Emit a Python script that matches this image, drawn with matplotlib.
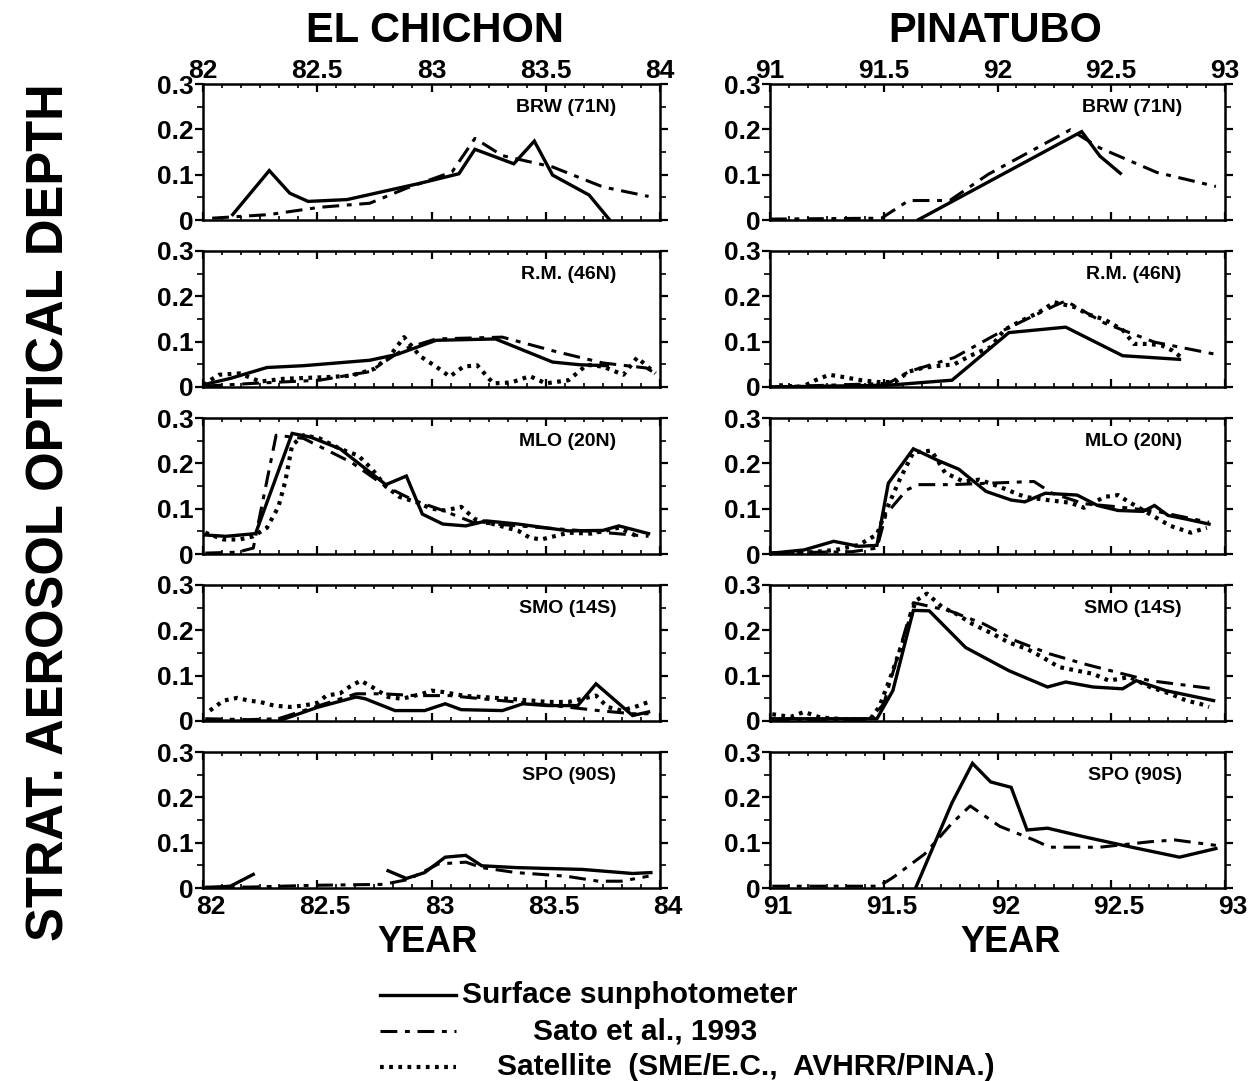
import matplotlib
matplotlib.use('Agg')
import matplotlib.pyplot as plt
import numpy as np
from matplotlib.ticker import MultipleLocator, FixedLocator
from matplotlib.lines import Line2D
from matplotlib.transforms import ScaledTranslation

plt.rcParams['font.family'] = ['Liberation Sans', 'DejaVu Sans']
plt.rcParams['font.weight'] = 'bold'

nan = np.nan

# ---- El Chichon (1982-84) ----
brw_ec_sun_x = [82.13, 82.29, 82.38, 82.46, 82.63, 82.95, 83.12, 83.19, 83.36, 83.45, 83.53, 83.69, 83.78]
brw_ec_sun_y = [0.012, 0.109, 0.059, 0.041, 0.045, 0.081, 0.102, 0.156, 0.124, 0.174, 0.099, 0.055, 0.0]
brw_ec_sato_x = [82.04, 82.29, 82.51, 82.73, 82.89, 83.09, 83.19, 83.31, 83.53, 83.75, 83.95]
brw_ec_sato_y = [0.004, 0.012, 0.028, 0.037, 0.07, 0.106, 0.18, 0.142, 0.117, 0.073, 0.052]

rm_ec_sun_x = [82.01, 82.12, 82.28, 82.44, 82.73, 82.85, 83.02, 83.28, 83.53, 83.65, 83.77]
rm_ec_sun_y = [0.006, 0.019, 0.043, 0.047, 0.059, 0.072, 0.103, 0.106, 0.055, 0.049, 0.047]
rm_ec_sato_x = [82.01, 82.22, 82.51, 82.73, 82.88, 83.02, 83.31, 83.53, 83.75, 83.94, 83.99]
rm_ec_sato_y = [0.002, 0.008, 0.015, 0.034, 0.084, 0.106, 0.11, 0.08, 0.053, 0.042, 0.027]
rm_ec_sat_x = [82.0, 82.07, 82.16, 82.25, 82.35, 82.45, 82.55, 82.65, 82.75, 82.82, 82.88, 82.95, 83.02,
               83.08, 83.14, 83.2, 83.27, 83.35, 83.43, 83.5, 83.6, 83.68, 83.75, 83.84, 83.9, 83.98]
rm_ec_sat_y = [0.005, 0.027, 0.03, 0.012, 0.018, 0.02, 0.022, 0.025, 0.04, 0.07, 0.11, 0.068, 0.045,
               0.023, 0.045, 0.048, 0.008, 0.01, 0.024, 0.008, 0.015, 0.049, 0.045, 0.027, 0.065, 0.03]

mlo_ec_sun_x = [82.01, 82.1, 82.23, 82.39, 82.47, 82.6, 82.8, 82.89, 82.96, 83.05, 83.15, 83.24, 83.38,
                83.6, 83.75, 83.82, 83.95]
mlo_ec_sun_y = [0.042, 0.039, 0.045, 0.266, 0.258, 0.232, 0.153, 0.172, 0.088, 0.066, 0.062, 0.073, 0.066,
                0.051, 0.052, 0.062, 0.045]
mlo_ec_sato_x = [82.01, 82.15, 82.22, 82.32, 82.44, 82.65, 82.8, 82.92, 83.05, 83.18, 83.38, 83.67, 83.95]
mlo_ec_sato_y = [0.002, 0.004, 0.013, 0.262, 0.255, 0.202, 0.149, 0.119, 0.096, 0.07, 0.062, 0.051, 0.039]
mlo_ec_sat_x = [82.01, 82.09, 82.16, 82.22, 82.28, 82.33, 82.36, 82.39, 82.44, 82.51, 82.6, 82.68, 82.74,
                82.8, 82.86, 82.93, 83.0, 83.06, 83.13, 83.19, 83.3, 83.38, 83.43, 83.48, 83.6, 83.7, 83.82, 83.9]
mlo_ec_sat_y = [0.047, 0.032, 0.032, 0.039, 0.058, 0.104, 0.16, 0.24, 0.262, 0.255, 0.232, 0.217, 0.187,
                0.149, 0.126, 0.115, 0.1, 0.096, 0.104, 0.077, 0.062, 0.051, 0.036, 0.032, 0.047, 0.045, 0.058, 0.039]

smo_ec_sun_x = [82.01, 82.33, 82.5, 82.67, 82.71, 82.84, 82.97, 83.06, 83.13, 83.31, 83.4, 83.51, 83.64,
                83.72, 83.88, 83.95]
smo_ec_sun_y = [0.0, 0.0, 0.03, 0.053, 0.049, 0.023, 0.023, 0.038, 0.025, 0.023, 0.038, 0.034, 0.034,
                0.082, 0.012, 0.02]
smo_ec_sato_x = [82.01, 82.2, 82.33, 82.49, 82.67, 82.79, 82.93, 83.08, 83.22, 83.37, 83.59, 83.73, 83.88, 83.95]
smo_ec_sato_y = [0.005, 0.003, 0.005, 0.031, 0.06, 0.06, 0.056, 0.056, 0.049, 0.042, 0.031, 0.023, 0.016, 0.016]
smo_ec_sat_x = [82.03, 82.09, 82.15, 82.2, 82.25, 82.31, 82.38, 82.44, 82.5, 82.54, 82.6, 82.64, 82.69,
                82.74, 82.81, 82.87, 82.96, 83.0, 83.05, 83.15, 83.25, 83.34, 83.44, 83.51, 83.6, 83.72,
                83.77, 83.83, 83.89, 83.95]
smo_ec_sat_y = [0.023, 0.045, 0.051, 0.045, 0.042, 0.034, 0.031, 0.034, 0.04, 0.056, 0.061, 0.075, 0.089,
                0.075, 0.053, 0.049, 0.06, 0.067, 0.064, 0.055, 0.052, 0.049, 0.045, 0.042, 0.042, 0.056,
                0.031, 0.023, 0.031, 0.042]

spo_ec_sun_x = [82.01, 82.12, 82.22, nan, 82.81, 82.89, 82.97, 83.06, 83.15, 83.22, 83.37, 83.66, 83.88, 83.96]
spo_ec_sun_y = [0.0, 0.004, 0.03, nan, 0.038, 0.021, 0.034, 0.068, 0.072, 0.049, 0.045, 0.041, 0.032, 0.034]
spo_ec_sato_x = [82.01, 82.2, 82.49, 82.79, 82.9, 83.03, 83.15, 83.22, 83.37, 83.59, 83.73, 83.83, 83.95]
spo_ec_sato_y = [0.002, 0.002, 0.006, 0.008, 0.019, 0.053, 0.057, 0.045, 0.034, 0.026, 0.015, 0.015, 0.026]

# ---- Pinatubo (1991-93) ----
brw_pi_sun_x = [91.65, 92.37, 92.45, 92.54]
brw_pi_sun_y = [0.0, 0.195, 0.141, 0.103]
brw_pi_sato_x = [91.0, 91.49, 91.61, 91.79, 91.96, 92.32, 92.45, 92.7, 92.96]
brw_pi_sato_y = [0.002, 0.004, 0.043, 0.043, 0.101, 0.199, 0.159, 0.105, 0.074]

rm_pi_sun_x = [91.0, 91.52, 91.8, 92.05, 92.3, 92.55, 92.8]
rm_pi_sun_y = [0.0, 0.004, 0.015, 0.12, 0.132, 0.069, 0.061]
rm_pi_sato_x = [91.0, 91.52, 91.61, 91.81, 92.03, 92.25, 92.3, 92.47, 92.69, 92.95]
rm_pi_sato_y = [0.0, 0.008, 0.034, 0.065, 0.126, 0.179, 0.19, 0.141, 0.099, 0.073]
rm_pi_sat_x = [91.04, 91.14, 91.2, 91.26, 91.31, 91.4, 91.47, 91.55, 91.61, 91.67, 91.73, 91.81, 91.88,
               91.97, 92.03, 92.1, 92.18, 92.25, 92.34, 92.4, 92.47, 92.55, 92.6, 92.66, 92.72, 92.77, 92.82]
rm_pi_sat_y = [0.004, 0.0, 0.015, 0.027, 0.023, 0.015, 0.011, 0.011, 0.034, 0.042, 0.046, 0.05, 0.069,
               0.088, 0.126, 0.145, 0.164, 0.187, 0.176, 0.16, 0.149, 0.126, 0.095, 0.095, 0.092, 0.08, 0.061]

mlo_pi_sun_x = [91.01, 91.15, 91.28, 91.39, 91.47, 91.52, 91.63, 91.74, 91.83, 91.95, 92.06, 92.12, 92.21,
                92.35, 92.44, 92.53, 92.64, 92.69, 92.75, 92.83, 92.93]
mlo_pi_sun_y = [0.002, 0.009, 0.028, 0.017, 0.019, 0.156, 0.232, 0.206, 0.187, 0.138, 0.119, 0.115, 0.134,
                0.13, 0.107, 0.096, 0.094, 0.107, 0.085, 0.077, 0.066]
mlo_pi_sato_x = [91.01, 91.22, 91.36, 91.47, 91.51, 91.6, 91.65, 91.8, 92.16, 92.24, 92.38, 92.53, 92.7, 92.93]
mlo_pi_sato_y = [0.002, 0.004, 0.005, 0.013, 0.088, 0.141, 0.153, 0.153, 0.16, 0.134, 0.111, 0.104, 0.094, 0.07]
mlo_pi_sat_x = [91.01, 91.14, 91.29, 91.39, 91.47, 91.51, 91.57, 91.63, 91.71, 91.77, 91.85, 91.92, 92.0,
                92.06, 92.12, 92.22, 92.32, 92.38, 92.47, 92.53, 92.57, 92.67, 92.76, 92.85, 92.92]
mlo_pi_sat_y = [0.002, 0.002, 0.009, 0.02, 0.043, 0.096, 0.164, 0.224, 0.228, 0.179, 0.16, 0.164, 0.15,
                0.138, 0.126, 0.119, 0.113, 0.102, 0.126, 0.13, 0.117, 0.088, 0.062, 0.047, 0.058]

smo_pi_sun_x = [91.01, 91.47, 91.54, 91.63, 91.7, 91.86, 92.05, 92.22, 92.3, 92.42, 92.55, 92.61, 92.74, 92.95]
smo_pi_sun_y = [0.005, 0.005, 0.067, 0.244, 0.243, 0.162, 0.111, 0.075, 0.086, 0.075, 0.071, 0.089, 0.067, 0.045]
smo_pi_sato_x = [91.01, 91.44, 91.5, 91.63, 91.79, 91.94, 92.08, 92.23, 92.38, 92.52, 92.67, 92.95]
smo_pi_sato_y = [0.003, 0.003, 0.038, 0.261, 0.243, 0.214, 0.177, 0.148, 0.126, 0.108, 0.089, 0.071]
smo_pi_sat_x = [91.01, 91.09, 91.15, 91.22, 91.35, 91.44, 91.48, 91.53, 91.59, 91.64, 91.69, 91.76, 91.82,
                91.89, 91.98, 92.05, 92.13, 92.2, 92.27, 92.35, 92.42, 92.49, 92.58, 92.67, 92.76, 92.83,
                92.89, 92.93]
smo_pi_sat_y = [0.015, 0.009, 0.02, 0.008, 0.003, 0.004, 0.031, 0.097, 0.184, 0.265, 0.281, 0.25, 0.236,
                0.214, 0.192, 0.173, 0.159, 0.14, 0.119, 0.111, 0.104, 0.089, 0.097, 0.075, 0.06, 0.045,
                0.038, 0.031]

spo_pi_sun_x = [91.64, 91.8, 91.89, 91.97, 92.06, 92.13, 92.22, 92.38, 92.59, 92.8, 92.96]
spo_pi_sun_y = [0.0, 0.188, 0.275, 0.234, 0.222, 0.128, 0.132, 0.113, 0.09, 0.068, 0.087]
spo_pi_sato_x = [91.01, 91.48, 91.54, 91.68, 91.8, 91.88, 92.01, 92.16, 92.23, 92.45, 92.67, 92.78, 92.96]
spo_pi_sato_y = [0.004, 0.004, 0.023, 0.075, 0.143, 0.181, 0.136, 0.106, 0.09, 0.09, 0.102, 0.106, 0.094]

stations = ['BRW (71N)', 'R.M. (46N)', 'MLO (20N)', 'SMO (14S)', 'SPO (90S)']
ec_ticks = [82, 82.5, 83, 83.5, 84]
ec_ticklabels = ['82', '82.5', '83', '83.5', '84']
pi_ticks = [91, 91.5, 92, 92.5, 93]
pi_ticklabels = ['91', '91.5', '92', '92.5', '93']
y_ticks = [0, 0.1, 0.2, 0.3]
y_ticklabels = ['0', '0.1', '0.2', '0.3']

ec_panels = [
    [(brw_ec_sun_x, brw_ec_sun_y), (brw_ec_sato_x, brw_ec_sato_y), None],
    [(rm_ec_sun_x, rm_ec_sun_y), (rm_ec_sato_x, rm_ec_sato_y), (rm_ec_sat_x, rm_ec_sat_y)],
    [(mlo_ec_sun_x, mlo_ec_sun_y), (mlo_ec_sato_x, mlo_ec_sato_y), (mlo_ec_sat_x, mlo_ec_sat_y)],
    [(smo_ec_sun_x, smo_ec_sun_y), (smo_ec_sato_x, smo_ec_sato_y), (smo_ec_sat_x, smo_ec_sat_y)],
    [(spo_ec_sun_x, spo_ec_sun_y), (spo_ec_sato_x, spo_ec_sato_y), None],
]
pi_panels = [
    [(brw_pi_sun_x, brw_pi_sun_y), (brw_pi_sato_x, brw_pi_sato_y), None],
    [(rm_pi_sun_x, rm_pi_sun_y), (rm_pi_sato_x, rm_pi_sato_y), (rm_pi_sat_x, rm_pi_sat_y)],
    [(mlo_pi_sun_x, mlo_pi_sun_y), (mlo_pi_sato_x, mlo_pi_sato_y), (mlo_pi_sat_x, mlo_pi_sat_y)],
    [(smo_pi_sun_x, smo_pi_sun_y), (smo_pi_sato_x, smo_pi_sato_y), (smo_pi_sat_x, smo_pi_sat_y)],
    [(spo_pi_sun_x, spo_pi_sun_y), (spo_pi_sato_x, spo_pi_sato_y), None],
]

# line styles: sunphotometer, Sato, satellite
styles = [
    dict(color='k', lw=2.4, ls='-', solid_joinstyle='miter'),
    dict(color='k', lw=2.2, ls=(0, (5.5, 2.5, 1.6, 2.5))),
    dict(color='k', lw=3.0, ls=(0, (0.9, 1.3))),
]

W, H = 1248, 1081
fig = plt.figure(figsize=(W / 100, H / 100), dpi=100)

top0, step, ph = 84, 167, 136
# bottom year labels sit a little right of their ticks in the original
shift_right = ScaledTranslation(8 / 100, 0, fig.dpi_scale_trans)


def make_ax(left_px, width_px, row, x0, ticks, ticklabels, data, label):
    top = top0 + row * step
    ax = fig.add_axes([left_px / W, 1 - (top + ph) / H, width_px / W, ph / H])
    for s, st in zip(data, styles):
        if s is not None:
            ax.plot(s[0], s[1], **st)
    ax.set_xlim(x0, x0 + 2)
    ax.set_ylim(0, 0.3)
    for sp in ax.spines.values():
        sp.set_linewidth(1.8)
    ax.xaxis.set_major_locator(FixedLocator(ticks))
    ax.xaxis.set_minor_locator(MultipleLocator(1 / 12))
    ax.yaxis.set_major_locator(FixedLocator(y_ticks))
    ax.yaxis.set_minor_locator(MultipleLocator(0.05))
    ax.tick_params(axis='x', which='both', direction='in', top=True, bottom=True,
                   labelbottom=(row == 4), labeltop=(row == 0), labelsize=19, pad=1)
    if row == 4:
        ax.tick_params(axis='x', which='major', pad=5)
    ax.tick_params(axis='x', which='major', length=6, width=1.6)
    ax.tick_params(axis='x', which='minor', length=3, width=1.2)
    ax.tick_params(axis='y', which='both', direction='out', left=True, right=True,
                   labelsize=19, pad=1)
    ax.tick_params(axis='y', which='major', length=6, width=1.6)
    ax.tick_params(axis='y', which='minor', length=4, width=1.2)
    ax.set_xticklabels(ticklabels, fontweight='bold')
    ax.set_yticklabels(y_ticklabels, fontweight='bold')
    if row == 4:
        for lab in ax.xaxis.get_majorticklabels():
            lab.set_transform(lab.get_transform() + shift_right)
    ax.text(0.905, 0.83, label, transform=ax.transAxes, ha='right', va='center',
            fontsize=14, fontweight='bold')
    return ax


for i in range(5):
    make_ax(203, 457, i, 82, ec_ticks, ec_ticklabels, ec_panels[i], stations[i])
    make_ax(770, 455, i, 91, pi_ticks, pi_ticklabels, pi_panels[i], stations[i])

fig.text(435 / W, 1 - 31 / H, 'EL CHICHON', ha='center', va='center', fontsize=30, fontweight='bold')
fig.text(995 / W, 1 - 31 / H, 'PINATUBO', ha='center', va='center', fontsize=30, fontweight='bold')
fig.text(427 / W, 1 - 943 / H, 'YEAR', ha='center', va='center', fontsize=26, fontweight='bold')
fig.text(1010 / W, 1 - 943 / H, 'YEAR', ha='center', va='center', fontsize=26, fontweight='bold')
fig.text(50 / W, 1 - 512 / H, 'STRAT. AEROSOL OPTICAL DEPTH', rotation=90, ha='center', va='center',
         fontsize=36.5, fontweight='bold')

# legend drawn by hand to keep the original's centred look
legend_labels = ['Surface sunphotometer', 'Sato et al., 1993', 'Satellite  (SME/E.C.,  AVHRR/PINA.)']
legend_text_x = [462, 533, 497]
legend_y = [995, 1031, 1067]
for st, lab, tx, ly in zip(styles, legend_labels, legend_text_x, legend_y):
    fig.add_artist(Line2D([380 / W, 456 / W], [1 - ly / H, 1 - ly / H], transform=fig.transFigure, **st))
    fig.text(tx / W, 1 - ly / H, lab, ha='left', va='center', fontsize=21.5, fontweight='bold')

fig.savefig('out.png', dpi=100)
